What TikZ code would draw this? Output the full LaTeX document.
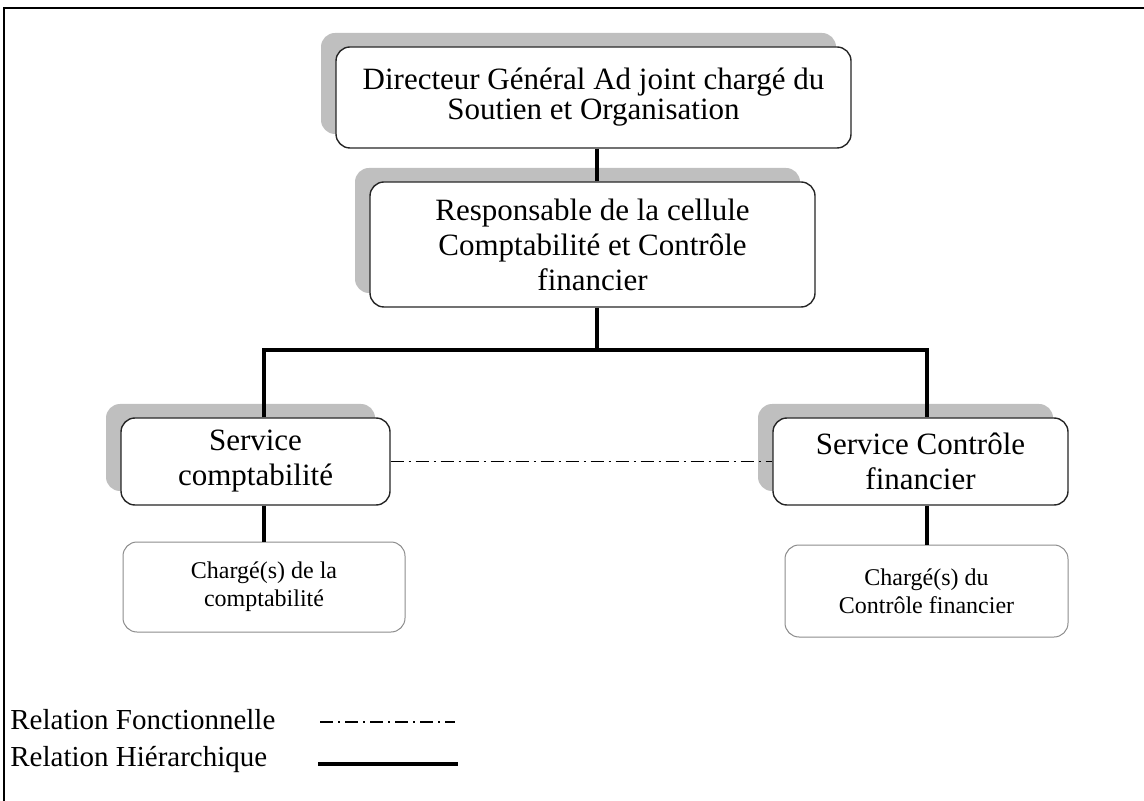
\documentclass[tikz,border=0pt]{standalone}
\usepackage{fontspec}
\setmainfont{Liberation Serif}
\usetikzlibrary{shadows}
\tikzset{%
  unitbox/.style  = {shape=rectangle, rounded corners=7pt,%
                     draw=black!85, line width=0.7pt, fill=white,%
                     align=center, inner sep=0pt,%
                     drop shadow={shadow xshift=-7.5pt, shadow yshift=7pt,%
                                  fill=gray!50, opacity=1}},%
  chef/.style     = {unitbox, font=\fontsize{15.5}{15}\selectfont},%
  service/.style  = {unitbox, font=\fontsize{15.5}{17.5}\selectfont},%
  charge/.style   = {shape=rectangle, rounded corners=7pt, draw=black!45,%
                     line width=0.5pt, fill=white, align=center,%
                     inner sep=0pt, font=\fontsize{12}{14}\selectfont},%
  legende/.style  = {anchor=west, inner sep=0pt, font=\fontsize{14.5}{17}\selectfont},%
  hier/.style     = {line width=2pt},%
  fonct/.style    = {line width=0.6pt,%
                     dash pattern=on 6.5pt off 2.5pt on 1pt off 2.5pt}%
}

\begin{document}
\begin{tikzpicture}[x=0.5pt,y=-0.5pt]
	\useasboundingbox (0,0) rectangle (1144,801);
	% cadre
	\draw [line width=1pt] (4,801) -- (4,8) -- (1144,8);
	% boites
	\node [chef, minimum width=257.5pt, minimum height=50.5pt] (dga) at (593.5,97.5)
		{Directeur Général Ad joint chargé du\\Soutien et Organisation};
	\node [service, minimum width=222.5pt, minimum height=62.5pt] (resp) at (592.5,244.5)
		{Responsable de la cellule\\Comptabilité et Contrôle\\financier};
	\node [service, minimum width=134.5pt, minimum height=43.5pt] (servcompta) at (255.5,461.5)
		{Service\\comptabilité};
	\node [service, minimum width=147.5pt, minimum height=43.5pt] (servctrl) at (920.5,461.5)
		{Service Contrôle\\financier};
	\node [charge, minimum width=141pt, minimum height=45pt] (chgcompta) at (264,587)
		{Chargé(s) de la\\comptabilité};
	\node [charge, minimum width=141.5pt, minimum height=46pt] (chgctrl) at (926.5,591)
		{Chargé(s) du\\Contrôle financier};
	% liens
	\coordinate (branch) at (597,350);
	\draw [hier] (branch |- dga.south) -- (branch |- resp.north);
	\draw [hier] (branch |- resp.south) -- (branch);
	\draw [hier] (servcompta.north -| chgcompta.north) |- (branch)
		-| (servctrl.north -| chgctrl.north);
	\draw [hier] (servcompta.south -| chgcompta.north) -- (chgcompta.north);
	\draw [hier] (servctrl.south -| chgctrl.north) -- (chgctrl.north);
	\draw [fonct] (servcompta.east) -- (servctrl.west);
	% legende
	\node [legende] (lfonct) at (10,720) {Relation Fonctionnelle};
	\node [legende] (lhier) at (10,759) {Relation Hiérarchique};
	\draw [fonct] (320,722) -- (455,722);
	\draw [hier] (318,764) -- (458,764);
\end{tikzpicture}
\end{document}
